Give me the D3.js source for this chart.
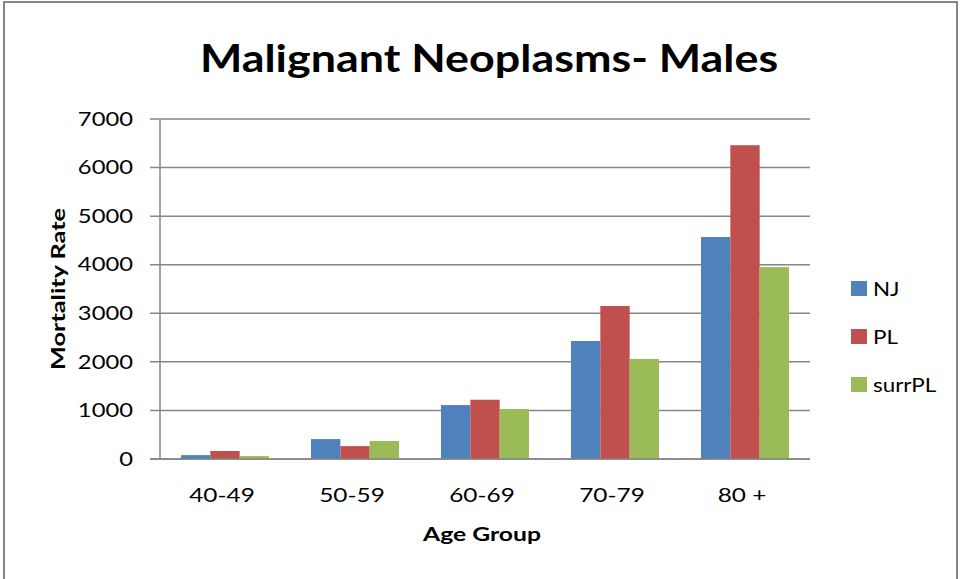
<!DOCTYPE html>
<html>
<head>
<meta charset="utf-8">
<script src="https://cdn.jsdelivr.net/npm/d3@7"></script>
<style>
  body { margin: 0; background: #fff; }
  text { font-family: Lato, "Open Sans", sans-serif; fill: #000; }
</style>
</head>
<body>
<script>
// chart data
const ageGroups = ["40-49", "50-59", "60-69", "70-79", "80 +"];
const seriesNames = ["NJ", "PL", "surrPL"];
const njValues = [80, 410, 1110, 2430, 4570];
const plValues = [165, 265, 1220, 3150, 6460];
const surrValues = [60, 370, 1030, 2060, 3950];
const yTicks = [0, 1000, 2000, 3000, 4000, 5000, 6000, 7000];
const colors = ["#4f81bd", "#c0504d", "#9bbb59"];

const width = 960, height = 579;
const plotLeft = 160, plotRight = 810, plotTop = 119, plotBottom = 459;

var svg = d3.select("body").append("svg")
    .attr("width", width)
    .attr("height", height);

// the original picture is a bit stretched, so widen text to match
function stretch(sel, factor) {
    sel.each(function () {
        var len = this.getComputedTextLength();
        d3.select(this).attr("textLength", len * factor).attr("lengthAdjust", "spacingAndGlyphs");
    });
}

// outer frame
svg.append("rect")
    .attr("x", 4).attr("y", 2)
    .attr("width", 953).attr("height", 600)
    .attr("fill", "none")
    .attr("stroke", "#868686")
    .attr("stroke-width", 2);

var x0 = d3.scaleBand().domain(ageGroups).range([plotLeft, plotRight]).paddingInner(0.323).paddingOuter(0.1615);
var x1 = d3.scaleBand().domain(seriesNames).range([0, x0.bandwidth()]);
var y = d3.scaleLinear().domain([0, 7000]).range([plotBottom, plotTop]);

// gridlines
svg.append("g").selectAll("line").data(yTicks).enter().append("line")
    .attr("x1", plotLeft - 10).attr("x2", plotRight)
    .attr("y1", d => y(d)).attr("y2", d => y(d))
    .attr("stroke", "#868686").attr("stroke-width", 1.5);

// y axis line
svg.append("line")
    .attr("x1", plotLeft).attr("x2", plotLeft)
    .attr("y1", plotTop).attr("y2", plotBottom)
    .attr("stroke", "#868686").attr("stroke-width", 1.5);

// y tick labels
var yLabels = svg.append("g").selectAll("text").data(yTicks).enter().append("text")
    .attr("x", plotLeft - 27).attr("y", d => y(d))
    .attr("dy", "0.35em")
    .attr("text-anchor", "end")
    .style("font-size", "19px")
    .text(d => d);
stretch(yLabels, 1.25);

// bars
var rows = ageGroups.map((g, i) => ({ group: g, vals: [njValues[i], plValues[i], surrValues[i]] }));
var groups = svg.append("g").selectAll("g").data(rows).enter().append("g")
    .attr("transform", d => "translate(" + x0(d.group) + ",0)");
groups.selectAll("rect").data(d => d.vals.map((v, j) => ({ name: seriesNames[j], v: v, j: j })))
    .enter().append("rect")
    .attr("x", d => x1(d.name))
    .attr("width", x1.bandwidth())
    .attr("y", d => y(d.v))
    .attr("height", d => y(0) - y(d.v))
    .attr("fill", d => colors[d.j]);

// baseline redraw on top
svg.append("line")
    .attr("x1", plotLeft - 10).attr("x2", plotRight)
    .attr("y1", y(0)).attr("y2", y(0))
    .attr("stroke", "#868686").attr("stroke-width", 1.5);

// x labels
var xLabels = svg.append("g").selectAll("text").data(ageGroups).enter().append("text")
    .attr("x", d => x0(d) + x0.bandwidth() / 2 - 3)
    .attr("y", 502)
    .attr("text-anchor", "middle")
    .style("font-size", "20px")
    .text(d => d);
stretch(xLabels, 1.22);

// title
var title = svg.append("text")
    .attr("x", 489).attr("y", 72)
    .attr("text-anchor", "middle")
    .style("font-size", "38px").style("font-weight", "bold")
    .text("Malignant Neoplasms- Males");
stretch(title, 1.18);

// axis titles
var xTitle = svg.append("text")
    .attr("x", 482).attr("y", 541)
    .attr("text-anchor", "middle")
    .style("font-size", "19px").style("font-weight", "bold")
    .text("Age Group");
stretch(xTitle, 1.3);

var yTitle = svg.append("text")
    .attr("transform", "translate(65,289) rotate(-90)")
    .attr("text-anchor", "middle")
    .style("font-size", "19px").style("font-weight", "bold")
    .text("Mortality Rate");
stretch(yTitle, 1.33);

// legend
var legend = svg.append("g").selectAll("g").data(seriesNames).enter().append("g")
    .attr("transform", (d, i) => "translate(851," + (281 + i * 48) + ")");
legend.append("rect").attr("width", 16).attr("height", 15).attr("fill", (d, i) => colors[i]);
var legendText = legend.append("text").attr("x", 22).attr("y", 8).attr("dy", "0.35em")
    .style("font-size", "20px").text(d => d);
stretch(legendText, 1.12);
</script>
</body>
</html>
